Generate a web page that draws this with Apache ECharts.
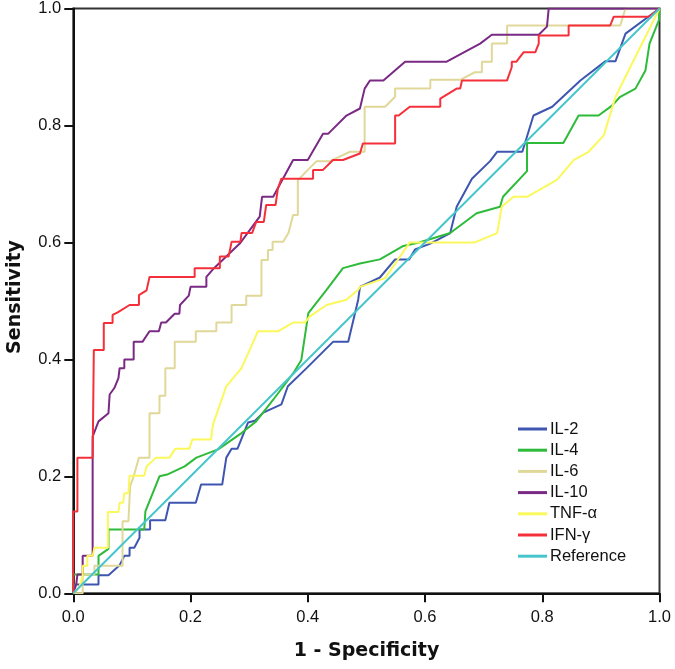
<!DOCTYPE html>
<html>
<head>
<meta charset="utf-8">
<script src="https://cdn.jsdelivr.net/npm/echarts@6/dist/echarts.min.js"></script>
<style>html,body{margin:0;padding:0;background:#fff;}#c{width:675px;height:669px;}</style>
</head>
<body>
<div id="c"></div>
<script>
const seriesNames = ['IL-2','IL-4','IL-6','IL-10','TNF-α','IFN-γ','Reference'];
const axisTicks = [0, 0.2, 0.4, 0.6, 0.8, 1.0];

const IL2 = [[0,0],[0.002,0.015],[0.043,0.015],[0.043,0.031],[0.06,0.031],[0.079,0.048],[0.087,0.064],[0.096,0.064],[0.096,0.078],[0.104,0.078],[0.113,0.095],[0.113,0.109],[0.131,0.109],[0.131,0.125],[0.157,0.125],[0.164,0.155],[0.209,0.155],[0.218,0.186],[0.254,0.186],[0.261,0.232],[0.27,0.247],[0.28,0.247],[0.298,0.292],[0.31,0.295],[0.324,0.309],[0.355,0.323],[0.366,0.354],[0.398,0.385],[0.443,0.43],[0.469,0.43],[0.486,0.502],[0.489,0.524],[0.523,0.54],[0.549,0.571],[0.573,0.571],[0.583,0.588],[0.609,0.598],[0.643,0.616],[0.654,0.661],[0.68,0.709],[0.711,0.739],[0.723,0.755],[0.766,0.755],[0.785,0.817],[0.817,0.832],[0.865,0.877],[0.908,0.91],[0.925,0.91],[0.942,0.957],[1,1]];

const IL4 = [[0,0],[0,0.032],[0.043,0.032],[0.043,0.064],[0.06,0.076],[0.06,0.109],[0.121,0.109],[0.123,0.14],[0.147,0.2],[0.16,0.203],[0.19,0.217],[0.21,0.232],[0.247,0.246],[0.287,0.274],[0.312,0.294],[0.341,0.331],[0.375,0.376],[0.389,0.399],[0.401,0.479],[0.432,0.519],[0.46,0.556],[0.489,0.564],[0.523,0.571],[0.563,0.594],[0.59,0.6],[0.643,0.616],[0.688,0.65],[0.728,0.661],[0.733,0.678],[0.774,0.722],[0.774,0.77],[0.836,0.77],[0.862,0.817],[0.896,0.817],[0.919,0.834],[0.933,0.849],[0.959,0.863],[0.976,0.894],[0.983,0.94],[0.999,0.98],[1,1]];

const IL6 = [[0,0],[0.016,0],[0.016,0.032],[0.036,0.032],[0.036,0.047],[0.084,0.047],[0.084,0.123],[0.094,0.123],[0.097,0.183],[0.103,0.2],[0.112,0.232],[0.13,0.232],[0.13,0.308],[0.147,0.308],[0.147,0.338],[0.157,0.338],[0.157,0.385],[0.173,0.385],[0.173,0.43],[0.209,0.43],[0.209,0.448],[0.244,0.448],[0.244,0.463],[0.27,0.463],[0.27,0.493],[0.295,0.493],[0.295,0.509],[0.321,0.509],[0.321,0.57],[0.332,0.57],[0.332,0.587],[0.34,0.587],[0.34,0.601],[0.358,0.601],[0.367,0.616],[0.375,0.647],[0.383,0.647],[0.383,0.706],[0.4,0.724],[0.415,0.739],[0.438,0.739],[0.472,0.755],[0.497,0.755],[0.497,0.832],[0.532,0.832],[0.549,0.849],[0.549,0.863],[0.609,0.863],[0.609,0.878],[0.66,0.878],[0.685,0.891],[0.697,0.891],[0.697,0.909],[0.714,0.909],[0.714,0.94],[0.74,0.94],[0.74,0.971],[0.933,0.971],[0.942,1],[1,1]];

const IL10 = [[0,0],[0.005,0.015],[0.007,0.032],[0.016,0.032],[0.016,0.064],[0.033,0.064],[0.033,0.268],[0.043,0.294],[0.06,0.308],[0.062,0.34],[0.07,0.351],[0.077,0.368],[0.079,0.385],[0.087,0.385],[0.087,0.4],[0.103,0.4],[0.103,0.43],[0.118,0.43],[0.13,0.448],[0.146,0.448],[0.15,0.463],[0.158,0.463],[0.173,0.478],[0.181,0.478],[0.182,0.493],[0.197,0.509],[0.2,0.524],[0.227,0.524],[0.227,0.541],[0.24,0.556],[0.284,0.598],[0.318,0.644],[0.322,0.678],[0.341,0.678],[0.375,0.741],[0.4,0.741],[0.426,0.786],[0.435,0.786],[0.466,0.817],[0.489,0.829],[0.497,0.863],[0.506,0.877],[0.529,0.877],[0.566,0.909],[0.637,0.909],[0.694,0.94],[0.714,0.955],[0.794,0.955],[0.808,0.969],[0.811,1],[1,1]];

const TNFa = [[0,0],[0.01,0.01],[0.016,0.03],[0.016,0.047],[0.024,0.047],[0.024,0.064],[0.033,0.064],[0.036,0.078],[0.059,0.078],[0.059,0.139],[0.077,0.139],[0.079,0.155],[0.085,0.155],[0.087,0.171],[0.094,0.171],[0.096,0.201],[0.121,0.201],[0.125,0.217],[0.141,0.232],[0.164,0.232],[0.174,0.247],[0.198,0.247],[0.203,0.263],[0.235,0.263],[0.238,0.288],[0.261,0.354],[0.287,0.385],[0.315,0.448],[0.349,0.448],[0.375,0.463],[0.395,0.463],[0.403,0.473],[0.432,0.493],[0.466,0.502],[0.486,0.519],[0.489,0.524],[0.532,0.539],[0.574,0.6],[0.685,0.6],[0.723,0.616],[0.731,0.661],[0.751,0.678],[0.774,0.678],[0.825,0.707],[0.854,0.741],[0.879,0.755],[0.905,0.783],[0.925,0.849],[1,1]];

const IFNg = [[0,0],[0,0.14],[0.007,0.14],[0.007,0.232],[0.033,0.232],[0.035,0.416],[0.052,0.416],[0.052,0.462],[0.067,0.462],[0.067,0.476],[0.075,0.48],[0.096,0.493],[0.112,0.493],[0.112,0.51],[0.125,0.518],[0.13,0.541],[0.207,0.541],[0.207,0.556],[0.25,0.556],[0.25,0.576],[0.265,0.576],[0.27,0.601],[0.285,0.601],[0.287,0.616],[0.305,0.616],[0.312,0.635],[0.325,0.635],[0.329,0.664],[0.345,0.664],[0.349,0.692],[0.355,0.709],[0.409,0.709],[0.409,0.724],[0.426,0.724],[0.443,0.741],[0.46,0.741],[0.489,0.752],[0.494,0.769],[0.549,0.769],[0.549,0.817],[0.555,0.817],[0.574,0.832],[0.626,0.832],[0.626,0.846],[0.654,0.863],[0.66,0.863],[0.663,0.877],[0.74,0.877],[0.748,0.9],[0.748,0.909],[0.756,0.909],[0.768,0.925],[0.788,0.925],[0.794,0.94],[0.794,0.954],[0.845,0.954],[0.845,0.971],[0.916,0.971],[0.922,0.986],[0.982,0.986],[1,1]];

const REF = [[0,0],[1,1]];

const seriesData = [IL2, IL4, IL6, IL10, TNFa, IFNg, REF];
const colors = ['#3e56b0','#2fbb3a','#e0d899','#7a2a84','#fbf85c','#f5303a','#46c6cc'];

const chart = echarts.init(document.getElementById('c'), null, {renderer:'canvas'});
const labelStyle = {color: '#111', fontFamily: 'Liberation Sans, Arial, sans-serif', fontSize: 16.5,
  formatter: v => v.toFixed(1)};
const axisCommon = {
  type: 'value', min: axisTicks[0], max: axisTicks[axisTicks.length - 1], interval: 0.2,
  axisLine: {show: true, onZero: false, lineStyle: {color: '#111', width: 2}},
  axisTick: {show: true, inside: false, length: 9, lineStyle: {color: '#111', width: 2}},
  splitLine: {show: false}
};
chart.setOption({
  animation: false,
  backgroundColor: '#fff',
  color: colors,
  grid: {left: 73.3, top: 7, right: 15.5, bottom: 75.7, show: true, borderColor: '#333', borderWidth: 2, backgroundColor: 'transparent'},
  xAxis: Object.assign({}, axisCommon, {axisLabel: Object.assign({}, labelStyle, {margin: 16})}),
  yAxis: Object.assign({}, axisCommon, {axisLabel: Object.assign({}, labelStyle, {margin: 12})}),
  legend: {
    orient: 'vertical', left: 513, top: 415,
    icon: 'rect', itemWidth: 29, itemHeight: 3, itemGap: 3.2,
    data: seriesNames,
    textStyle: {color: '#111', fontFamily: 'Liberation Sans, Arial, sans-serif', fontSize: 16.5, lineHeight: 18, padding: [0,0,0,-2]}
  },
  graphic: [
    {type: 'text', style: {text: '1 - Specificity', font: 'bold 19px "DejaVu Sans"', fill: '#111', textAlign: 'center', textVerticalAlign: 'middle'}, x: 366.5, y: 651},
    {type: 'text', style: {text: 'Sensitivity', font: 'bold 19px "DejaVu Sans"', fill: '#111', textAlign: 'center', textVerticalAlign: 'middle'}, x: 15, y: 297, rotation: Math.PI/2}
  ],
  series: seriesData.map((d, i) => ({
    name: seriesNames[i], type: 'line', data: d, showSymbol: false, symbol: 'none',
    lineStyle: {width: 2, color: colors[i]}, itemStyle: {color: colors[i]}, z: 2 + i
  }))
});
</script>
</body>
</html>
